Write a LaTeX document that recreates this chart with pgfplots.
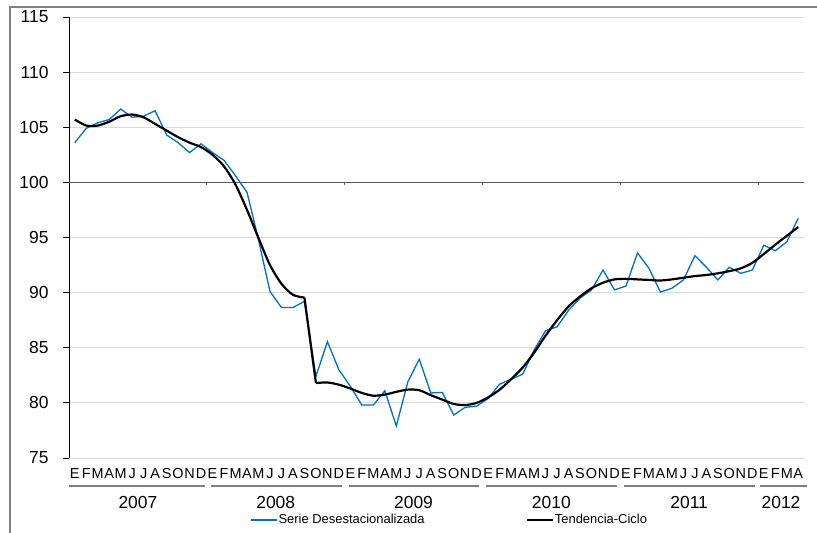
\documentclass[border=0pt]{standalone}
\usepackage{fontspec}
\setmainfont{Liberation Sans}
\usepackage{pgfplots}
\pgfplotsset{compat=1.18}
\usepackage{pgfplotstable}
\definecolor{serie}{RGB}{0,112,192}
\definecolor{gridc}{RGB}{217,217,217}
\definecolor{framec}{RGB}{128,128,128}
\definecolor{axc}{RGB}{89,89,89}

\pgfplotstableread{
i s t
0 103.6 105.7
1 104.9 105.15
2 105.4 105.15
3 105.7 105.5
4 106.65 106.0
5 105.9 106.15
6 106.0 105.9
7 106.5 105.3
8 104.3 104.7
9 103.6 104.1
10 102.7 103.6
11 103.5 103.2
12 102.7 102.5
13 102.0 101.45
14 100.6 99.8
15 99.1 97.5
16 94.8 94.95
17 90.1 92.5
18 88.65 90.8
19 88.65 89.8
20 89.2 89.55
21 82.4 81.8
22 85.55 81.85
23 83.0 81.65
24 81.5 81.3
25 79.8 80.9
26 79.8 80.65
27 81.1 80.75
28 77.9 81.0
29 81.9 81.2
30 83.96 81.15
31 80.9 80.7
32 80.95 80.3
33 78.9 79.9
34 79.6 79.8
35 79.7 80.0
36 80.4 80.5
37 81.7 81.2
38 82.15 82.15
39 82.6 83.2
40 84.8 84.55
41 86.55 86.1
42 86.9 87.5
43 88.4 88.75
44 89.5 89.65
45 90.25 90.4
46 92.05 90.9
47 90.25 91.2
48 90.6 91.25
49 93.6 91.2
50 92.2 91.15
51 90.05 91.1
52 90.4 91.2
53 91.15 91.35
54 93.35 91.5
55 92.3 91.6
56 91.15 91.75
57 92.3 91.95
58 91.75 92.2
59 92.05 92.7
60 94.3 93.5
61 93.8 94.35
62 94.6 95.15
63 96.75 95.95
}\data

\begin{document}
\begin{tikzpicture}
\path[use as bounding box] (0,0) rectangle (817bp,533bp);
\draw[framec, line width=1.2bp] (10bp,0) -- (10bp,526bp) -- (817bp,526bp);
\begin{axis}[
  at={(69bp,75bp)}, anchor=south west,
  scale only axis, width=735bp, height=441bp,
  xmin=-0.5, xmax=63.5, ymin=75, ymax=115,
  clip=false,
  axis lines*=left,
  x axis line style={draw=none},
  y axis line style={black, line width=0.9bp},
  ytick={75,80,...,115},
  ymajorgrids, grid style={gridc, line width=0.9bp},
  ytick style={black, line width=0.8bp},
  tick align=outside, major tick length=6bp,
  xtick={0,...,63},
  xtick style={draw=none},
  xticklabels={E,F,M,A,M,J,J,A,S,O,N,D,E,F,M,A,M,J,J,A,S,O,N,D,E,F,M,A,M,J,J,A,S,O,N,D,E,F,M,A,M,J,J,A,S,O,N,D,E,F,M,A,M,J,J,A,S,O,N,D,E,F,M,A},
  xticklabel style={font=\fontsize{14.5}{14.5}\selectfont, yshift=-1bp},
  yticklabel style={font=\fontsize{17.5}{17.5}\selectfont, xshift=-11bp},
  /pgf/number format/assume math mode=true,
  legend style={at={(0.2463,-0.1406)}, anchor=west, draw=none, fill=none,
    inner sep=0pt, legend columns=2,
    font=\fontsize{13}{13}\selectfont,
    nodes={inner sep=1bp},
    /tikz/every even column/.append style={column sep=100bp}},
  legend cell align=left,
  legend image code/.code={\draw[#1] (0bp,0bp) -- (26bp,0bp);},
]
\draw[axc, line width=1.3bp] (axis cs:-0.5,100) -- (axis cs:63.5,100);
\draw[axc, line width=0.9bp] (axis cs:11.5,100) -- ([yshift=-3bp]axis cs:11.5,100);
\draw[axc, line width=0.9bp] (axis cs:23.5,100) -- ([yshift=-3bp]axis cs:23.5,100);
\draw[axc, line width=0.9bp] (axis cs:35.5,100) -- ([yshift=-3bp]axis cs:35.5,100);
\draw[axc, line width=0.9bp] (axis cs:47.5,100) -- ([yshift=-3bp]axis cs:47.5,100);
\draw[axc, line width=0.9bp] (axis cs:59.5,100) -- ([yshift=-3bp]axis cs:59.5,100);
\addplot[serie, line width=1.3bp] table[x=i, y=s] {\data};
\addlegendentry{Serie Desestacionalizada}
\addplot[black, line width=2.2bp, smooth, tension=0.45, restrict x to domain=0:20] table[x=i, y=t] {\data};
\addlegendentry{Tendencia-Ciclo}
\addplot[black, line width=2.2bp, forget plot, restrict x to domain=20:21] table[x=i, y=t] {\data};
\addplot[black, line width=2.2bp, smooth, tension=0.45, forget plot, restrict x to domain=21:63] table[x=i, y=t] {\data};
% year separators
\draw[framec, line width=1.5bp] ([yshift=-28bp]axis cs:-0.5,75) -- ([xshift=-2bp,yshift=-28bp]axis cs:11.5,75);
\draw[framec, line width=1.5bp] ([xshift=4bp,yshift=-28bp]axis cs:11.5,75) -- ([xshift=-3bp,yshift=-28bp]axis cs:23.5,75);
\draw[framec, line width=1.5bp] ([xshift=4bp,yshift=-28bp]axis cs:23.5,75) -- ([xshift=-3bp,yshift=-28bp]axis cs:35.5,75);
\draw[framec, line width=1.5bp] ([xshift=4bp,yshift=-28bp]axis cs:35.5,75) -- ([xshift=-3bp,yshift=-28bp]axis cs:47.5,75);
\draw[framec, line width=1.5bp] ([xshift=4bp,yshift=-28bp]axis cs:47.5,75) -- ([xshift=-3bp,yshift=-28bp]axis cs:59.5,75);
\draw[framec, line width=1.5bp] ([xshift=2bp,yshift=-28bp]axis cs:59.5,75) -- ([xshift=3bp,yshift=-28bp]axis cs:63.5,75);
\node[font=\fontsize{17.5}{17.5}\selectfont] at ([yshift=-44bp]axis cs:5.5,75) {2007};
\node[font=\fontsize{17.5}{17.5}\selectfont] at ([yshift=-44bp]axis cs:17.5,75) {2008};
\node[font=\fontsize{17.5}{17.5}\selectfont] at ([yshift=-44bp]axis cs:29.5,75) {2009};
\node[font=\fontsize{17.5}{17.5}\selectfont] at ([yshift=-44bp]axis cs:41.5,75) {2010};
\node[font=\fontsize{17.5}{17.5}\selectfont] at ([yshift=-44bp]axis cs:53.5,75) {2011};
\node[font=\fontsize{17.5}{17.5}\selectfont] at ([yshift=-44bp]axis cs:61.5,75) {2012};
\end{axis}
\end{tikzpicture}
\end{document}
